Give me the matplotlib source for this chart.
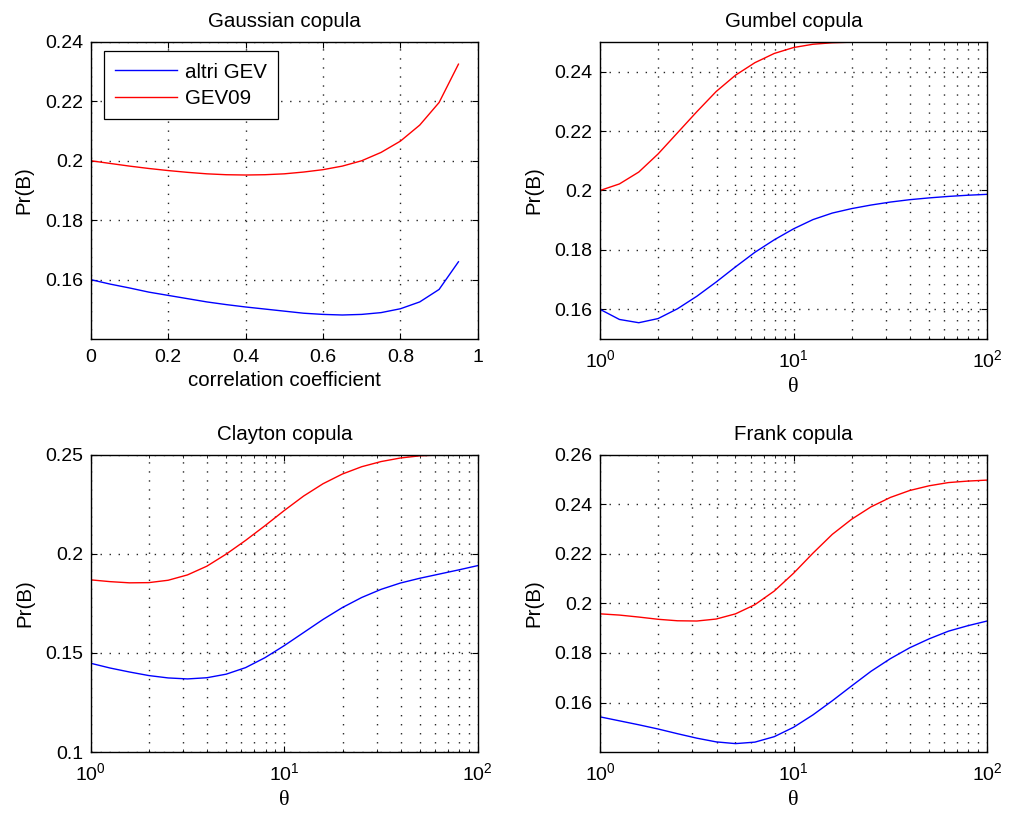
import matplotlib
matplotlib.use("Agg")
import matplotlib.pyplot as plt
from matplotlib.ticker import FuncFormatter, LogLocator, NullFormatter
import numpy as np

plt.rcParams['font.family'] = ['Liberation Sans', 'DejaVu Sans']

# Gaussian copula: correlation coefficient 0:0.05:0.95
rho = [0.0, 0.05, 0.1, 0.15, 0.2, 0.25, 0.3, 0.35, 0.4, 0.45,
       0.5, 0.55, 0.6, 0.65, 0.7, 0.75, 0.8, 0.85, 0.9, 0.95]
gauss_altri = [0.1600, 0.1585, 0.1572, 0.1558, 0.1547, 0.1536, 0.1525, 0.1516, 0.1508, 0.1501,
               0.1494, 0.1487, 0.1483, 0.1481, 0.1483, 0.1489, 0.1502, 0.1525, 0.1567, 0.1660]
gauss_gev09 = [0.2000, 0.1991, 0.1982, 0.1974, 0.1967, 0.1961, 0.1956, 0.1953, 0.1952, 0.1953,
               0.1956, 0.1962, 0.1970, 0.1982, 0.2000, 0.2028, 0.2066, 0.2120, 0.2196, 0.2325]

# theta values for the Archimedean copulas (10^0 ... 10^2, 21 points)
theta = [1.0, 1.259, 1.585, 1.995, 2.512, 3.162, 3.981, 5.012, 6.310, 7.943,
         10.0, 12.59, 15.85, 19.95, 25.12, 31.62, 39.81, 50.12, 63.10, 79.43, 100.0]

gumbel_altri = [0.1600, 0.1566, 0.1555, 0.1569, 0.1602, 0.1644, 0.1692, 0.1743, 0.1792, 0.1834,
                0.1871, 0.1902, 0.1924, 0.1939, 0.1951, 0.1961, 0.1969, 0.1975, 0.1980, 0.1984, 0.1987]
gumbel_gev09 = [0.2000, 0.2022, 0.2062, 0.2123, 0.2194, 0.2265, 0.2333, 0.2388, 0.2430, 0.2461,
                0.2481, 0.2492, 0.2497, 0.2499, 0.2500, 0.2500, 0.2500, 0.2500, 0.2500, 0.2500, 0.2500]

clayton_altri = [0.1448, 0.1424, 0.1404, 0.1386, 0.1374, 0.1369, 0.1375, 0.1393, 0.1426, 0.1476,
                 0.1537, 0.1603, 0.1669, 0.1729, 0.1780, 0.1821, 0.1853, 0.1877, 0.1898, 0.1919, 0.1941]
clayton_gev09 = [0.1869, 0.1860, 0.1854, 0.1855, 0.1867, 0.1894, 0.1938, 0.1999, 0.2068, 0.2142,
                 0.2219, 0.2292, 0.2354, 0.2403, 0.2440, 0.2466, 0.2484, 0.2495, 0.2499, 0.2500, 0.2500]

frank_altri = [0.1542, 0.1526, 0.1510, 0.1493, 0.1474, 0.1456, 0.1441, 0.1434, 0.1440, 0.1462,
               0.1500, 0.1550, 0.1607, 0.1667, 0.1726, 0.1777, 0.1821, 0.1857, 0.1888, 0.1910, 0.1929]
frank_gev09 = [0.1958, 0.1953, 0.1945, 0.1936, 0.1930, 0.1929, 0.1937, 0.1958, 0.1995, 0.2050,
               0.2122, 0.2203, 0.2279, 0.2340, 0.2390, 0.2428, 0.2456, 0.2475, 0.2488, 0.2494, 0.2498]

yticks_gauss = [0.16, 0.18, 0.2, 0.22, 0.24]
yticks_gumbel = [0.16, 0.18, 0.2, 0.22, 0.24]
yticks_clayton = [0.1, 0.15, 0.2, 0.25]
yticks_frank = [0.16, 0.18, 0.2, 0.22, 0.24, 0.26]

GRID = dict(color='0.15', linestyle=(0, (1, 5.5)), linewidth=1.0)
FS = 14.8


def style_axes(ax):
    ax.tick_params(which='both', direction='in', top=True, right=True, labelsize=14)
    ax.tick_params(which='major', length=4.5, width=0.8)
    ax.tick_params(which='minor', length=2.5, width=0.6)
    ax.tick_params(axis='y', pad=5.5)
    ax.tick_params(axis='x', pad=7.5)
    for s in ax.spines.values():
        s.set_linewidth(1.0)
        s.set_color('black')


def num_fmt(v, pos):
    return '%g' % round(v, 4)


def log_fmt(v, pos):
    return r'$\mathregular{10^{%d}}$' % int(round(np.log10(v)))


fig = plt.figure(figsize=(10.24, 8.21), dpi=100)
w, h = 0.378, 0.362
ax1 = fig.add_axes([0.0886, 0.587, w, h])
ax2 = fig.add_axes([0.586, 0.587, w, h])
ax3 = fig.add_axes([0.0886, 0.084, w, h])
ax4 = fig.add_axes([0.586, 0.084, w, h])

lw = 1.0
# Gaussian
ax1.plot(rho, gauss_altri, color='blue', lw=lw, label='altri GEV')
ax1.plot(rho, gauss_gev09, color='red', lw=lw, label='GEV09')
ax1.set_xlim(0, 1)
ax1.set_ylim(0.14, 0.24)
ax1.set_xticks([0, 0.2, 0.4, 0.6, 0.8, 1])
ax1.xaxis.set_major_formatter(FuncFormatter(num_fmt))
ax1.set_yticks(yticks_gauss)
ax1.yaxis.set_major_formatter(FuncFormatter(num_fmt))
ax1.grid(True, which='major', **GRID)
ax1.set_title('Gaussian copula', fontsize=FS, pad=11)
ax1.set_xlabel('correlation coefficient', fontsize=FS, labelpad=3)
ax1.set_ylabel('Pr(B)', fontsize=FS, labelpad=8)
leg = ax1.legend(loc='upper left', bbox_to_anchor=(0.034, 0.968), fontsize=FS, fancybox=False,
                 edgecolor='black', framealpha=1, handlelength=3.0, handletextpad=0.4,
                 borderpad=0.55, labelspacing=0.35, borderaxespad=0)
leg.get_frame().set_linewidth(0.9)
style_axes(ax1)

panels = [(ax2, 'Gumbel copula', gumbel_altri, gumbel_gev09, (0.15, 0.25), yticks_gumbel),
          (ax3, 'Clayton copula', clayton_altri, clayton_gev09, (0.1, 0.25), yticks_clayton),
          (ax4, 'Frank copula', frank_altri, frank_gev09, (0.14, 0.26), yticks_frank)]
for ax, title, altri, gev09, ylim, yt in panels:
    ax.plot(theta, altri, color='blue', lw=lw)
    ax.plot(theta, gev09, color='red', lw=lw)
    ax.set_xscale('log')
    ax.set_xlim(1, 100)
    ax.set_ylim(*ylim)
    ax.xaxis.set_major_locator(LogLocator(base=10, numticks=5))
    ax.xaxis.set_minor_locator(LogLocator(base=10, subs=np.arange(2, 10), numticks=20))
    ax.xaxis.set_major_formatter(FuncFormatter(log_fmt))
    ax.xaxis.set_minor_formatter(NullFormatter())
    ax.set_yticks(yt)
    ax.yaxis.set_major_formatter(FuncFormatter(num_fmt))
    ax.grid(True, which='both', axis='x', **GRID)
    ax.grid(True, which='major', axis='y', **GRID)
    ax.set_title(title, fontsize=FS, pad=11)
    ax.set_xlabel('θ', fontsize=16, family=['Liberation Serif', 'DejaVu Serif'], labelpad=5)
    ax.set_ylabel('Pr(B)', fontsize=FS, labelpad=8)
    style_axes(ax)

fig.savefig('out.png', dpi=100, facecolor='white')
